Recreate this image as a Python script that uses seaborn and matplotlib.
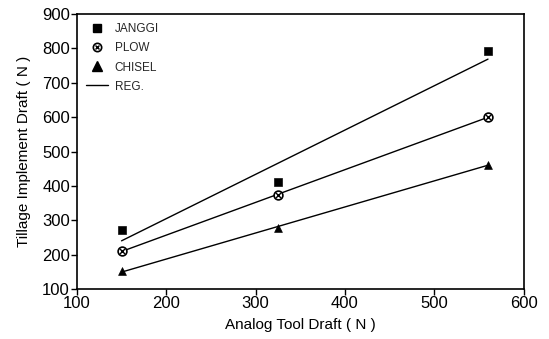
import matplotlib
matplotlib.use("Agg")
import matplotlib.pyplot as plt
import seaborn as sns
import pandas as pd
import numpy as np
from matplotlib.lines import Line2D
from matplotlib.legend_handler import HandlerTuple

analog_draft = [150, 325, 560]
janggi = [272, 411, 792]
plow = [210, 375, 600]
chisel = [152, 278, 462]

sns.set_theme(style="ticks")
plt.rcParams['font.family'] = ['Liberation Sans', 'DejaVu Sans']

fig = plt.figure(figsize=(5.49, 3.39), dpi=100)
ax = fig.add_axes([0.140, 0.147, 0.814, 0.812])

df = pd.DataFrame({"x": analog_draft * 3,
                   "y": janggi + plow + chisel,
                   "impl": ["JANGGI"] * 3 + ["PLOW"] * 3 + ["CHISEL"] * 3})

for name in ["JANGGI", "PLOW", "CHISEL"]:
    sub = df[df.impl == name]
    sns.regplot(data=sub, x="x", y="y", scatter=False, ci=None, ax=ax,
                color="black", line_kws=dict(lw=1.0))

sub = df[df.impl == "JANGGI"]
sns.scatterplot(data=sub, x="x", y="y", marker="s", s=32, color="black",
                edgecolor="black", ax=ax, zorder=5)
sub = df[df.impl == "PLOW"]
sns.scatterplot(data=sub, x="x", y="y", marker="o", s=40, facecolor="white",
                edgecolor="black", linewidth=1.2, ax=ax, zorder=5)
sns.scatterplot(data=sub, x="x", y="y", marker="x", s=14, color="black",
                linewidth=1.0, ax=ax, zorder=6)
sub = df[df.impl == "CHISEL"]
sns.scatterplot(data=sub, x="x", y="y", marker="^", s=32, color="black",
                edgecolor="black", ax=ax, zorder=5)

ax.set_xlim(100, 600)
ax.set_ylim(100, 900)
ax.set_xticks([100, 200, 300, 400, 500, 600])
ax.set_yticks([100, 200, 300, 400, 500, 600, 700, 800, 900])
ax.tick_params(axis="both", labelsize=12, direction="out", length=4,
               width=1.0, color="black", pad=1, labelcolor="black")
for sp in ax.spines.values():
    sp.set_visible(True)
    sp.set_color("black")
    sp.set_linewidth(1.2)

ax.set_xlabel("Analog Tool Draft ( N )", fontsize=11, color="black", labelpad=5)
ax.set_ylabel("Tillage Implement Draft ( N )", fontsize=11, color="black", labelpad=8)

h_j = Line2D([], [], marker="s", ls="none", color="black", markersize=5.5)
h_p1 = Line2D([], [], marker="o", ls="none", mfc="white", mec="black", markersize=6, mew=1.2)
h_p2 = Line2D([], [], marker="x", ls="none", color="black", markersize=3.5, mew=1.0)
h_c = Line2D([], [], marker="^", ls="none", color="black", markersize=7)
h_r = Line2D([], [], color="black", lw=1.0)
leg = ax.legend([h_j, (h_p1, h_p2), h_c, h_r], ["JANGGI", "PLOW", "CHISEL", "REG."],
                handler_map={tuple: HandlerTuple(ndivide=1, pad=0)},
                loc="upper left", frameon=False, fontsize=8.5, handlelength=1.8,
                handletextpad=0.6, labelspacing=0.6, borderaxespad=0.4,
                bbox_to_anchor=(0.0, 1.0))

fig.savefig("out.png", dpi=100)
